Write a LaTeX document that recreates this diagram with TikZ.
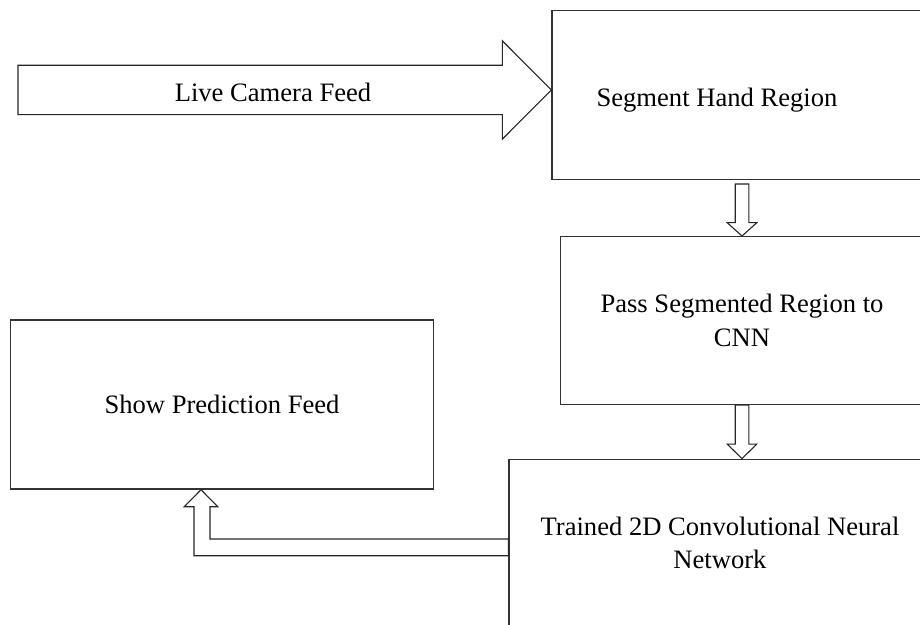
\documentclass[tikz,border=0pt]{standalone}
\usepackage{fontspec}
\setmainfont{Liberation Serif}
\usetikzlibrary{positioning,calc}
\tikzset{
  stage/.style={draw=black!80,line width=0.7pt,fill=white,align=center,
    inner sep=0pt,font=\fontsize{13.3}{16.6}\selectfont},
  flow/.style={draw=black!85,line width=0.55pt,fill=white,line join=miter},
  caption/.style={inner sep=0pt,font=\fontsize{13.3}{16.6}\selectfont},
}

\begin{document}
\begin{tikzpicture}[x=0.5pt,y=-0.5pt]
  \useasboundingbox (0,0) rectangle (920,625);
  \clip (0,0) rectangle (920,625);
  % stages
  \node[stage,minimum width=190pt,minimum height=84.4pt] (seg) at (742,95.1)
    {\raisebox{-2.5pt}[9.1pt][2.9pt]{Segment Hand Region}\hspace*{25pt}};
  \node[stage,minimum width=181.3pt,minimum height=83.8pt] (pass) at (742,320.5)
    {Pass Segmented Region to\\CNN};
  \node[stage,minimum width=211pt,minimum height=83.2pt] (cnn) at (720,542.5)
    {Trained 2D Convolutional Neural\\Network};
  \node[stage,minimum width=211.3pt,minimum height=84.5pt] (show) at (222,404.5) {Show Prediction Feed};
  % camera input arrow
  \coordinate (cam) at (18,90);
  \draw[flow] ($(cam)+(0,-24.7)$) -- ($(seg.west |- cam)+(-49,-24.7)$) -- ++(0,-24.5)
    -- (seg.west |- cam) -- ++(-49,49.2) -- ++(0,-24.5) -- ($(cam)+(0,24.7)$) -- cycle;
  \node[caption] (camlbl) at (273,92) {Live Camera Feed};
  % down arrows
  \draw[flow] ($(seg.south)+(-6.8,3.8)$) -- ($(pass.north)+(-6.8,-13.3)$) -- ++(-8,0)
    -- (pass.north) -- ++(14.8,-13.3) -- ++(-8,0) -- ($(seg.south)+(6.8,3.8)$) -- cycle;
  \coordinate (tipB) at (pass.south |- cnn.north);
  \draw[flow] ($(pass.south)+(-6.8,0)$) -- ($(tipB)+(-6.8,-14.5)$) -- ++(-8,0)
    -- (tipB) -- ++(14.8,-14.5) -- ++(-8,0) -- ($(pass.south)+(6.8,0)$) -- cycle;
  % return arrow
  \coordinate (tipC) at ($(show.south)+(-21,0)$);
  \draw[flow] (tipC) -- ++(16.7,17) -- ++(-7.7,0) |- ($(cnn.west)+(0,-3.5)$)
    -- ($(cnn.west)+(0,13.2)$) -| ($(tipC)+(-7,17)$) -- ++(-9.7,0) -- cycle;
\end{tikzpicture}
\end{document}
